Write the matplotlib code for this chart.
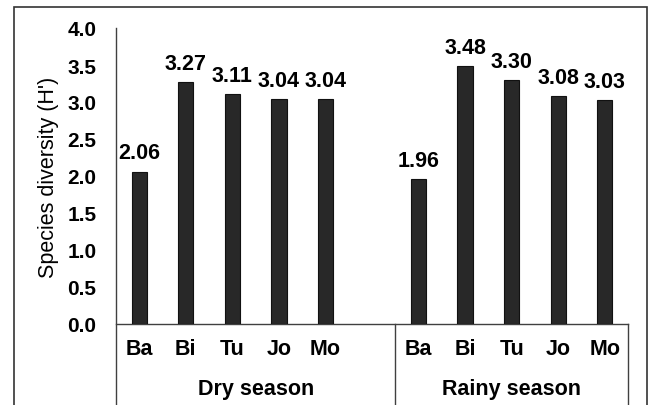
import matplotlib
matplotlib.use("Agg")
import matplotlib.pyplot as plt
from matplotlib.patches import Rectangle
from matplotlib.lines import Line2D
import numpy as np

plt.rcParams['font.family'] = ['Liberation Sans', 'DejaVu Sans']

sites = ['Ba', 'Bi', 'Tu', 'Jo', 'Mo']
dry_season = [2.06, 3.27, 3.11, 3.04, 3.04]
rainy_season = [1.96, 3.48, 3.30, 3.08, 3.03]
season_names = ['Dry season', 'Rainy season']
y_ticks = [0.0, 0.5, 1.0, 1.5, 2.0, 2.5, 3.0, 3.5, 4.0]

W, H = 649, 406
fig = plt.figure(figsize=(W / 100, H / 100), dpi=100)
ax_l, ax_r, ax_t, ax_b = 116, 628, 29, 325
ax = fig.add_axes([ax_l / W, 1 - ax_b / H, (ax_r - ax_l) / W, (ax_b - ax_t) / H])

x_dry = np.arange(len(sites))
x_rainy = np.arange(len(sites)) + len(sites) + 1
bar_kw = dict(width=0.33, color='#282828', edgecolor='#111111', linewidth=0.8, zorder=3)
b1 = ax.bar(x_dry, dry_season, **bar_kw)
b2 = ax.bar(x_rainy, rainy_season, **bar_kw)

for bars, vals in ((b1, dry_season), (b2, rainy_season)):
    for rect, v in zip(bars, vals):
        ax.annotate(f'{v:.2f}', (rect.get_x() + rect.get_width() / 2, v),
                    xytext=(0, 9.5), textcoords='offset points',
                    ha='center', va='baseline', fontsize=15.5, fontweight='bold')

ax.set_xlim(-0.5, 2 * len(sites) + 0.5)
ax.set_ylim(0, 4.0)
ax.set_yticks(y_ticks)
ax.set_yticklabels([f'{t:.1f}' for t in y_ticks], fontsize=15, fontweight='bold')
ax.tick_params(axis='y', length=0, pad=14)
ax.set_xticks(list(x_dry) + list(x_rainy))
ax.set_xticklabels(sites + sites, fontsize=15.5, fontweight='bold')
ax.tick_params(axis='x', length=0, pad=10)

for s in ('top', 'right', 'left'):
    ax.spines[s].set_visible(False)
ax.spines['bottom'].set_color('#404040')
ax.spines['bottom'].set_linewidth(1.0)

# vertical axis & group separators extending below
line_kw = dict(color='#404040', linewidth=1.0, clip_on=False, transform=ax.get_xaxis_transform())
for xv, ytop in ((-0.5, 1.0), (len(sites) + 0.5, 0.0), (2 * len(sites) + 0.5, 0.0)):
    ax.add_line(Line2D([xv, xv], [ytop, -0.35], **line_kw))

# group labels
centers = [(-0.5 + len(sites) + 0.5) / 2, (len(sites) + 0.5 + 2 * len(sites) + 0.5) / 2]
for c, name in zip(centers, season_names):
    ax.text(c, -(395 - ax_b) / (ax_b - ax_t), name, transform=ax.get_xaxis_transform(),
            ha='center', va='baseline', fontsize=15.5, fontweight='bold')

fig.text(49 / W, 1 - 177 / H, "Species diversity (H')", rotation=90,
         ha='center', va='center', fontsize=15.5)

fig.add_artist(Rectangle((14 / W, -0.1), (647 - 14) / W, 1.1 - 8 / H,
                         transform=fig.transFigure, fill=False,
                         edgecolor='#333333', linewidth=1.2))

fig.savefig('out.png', dpi=100)
